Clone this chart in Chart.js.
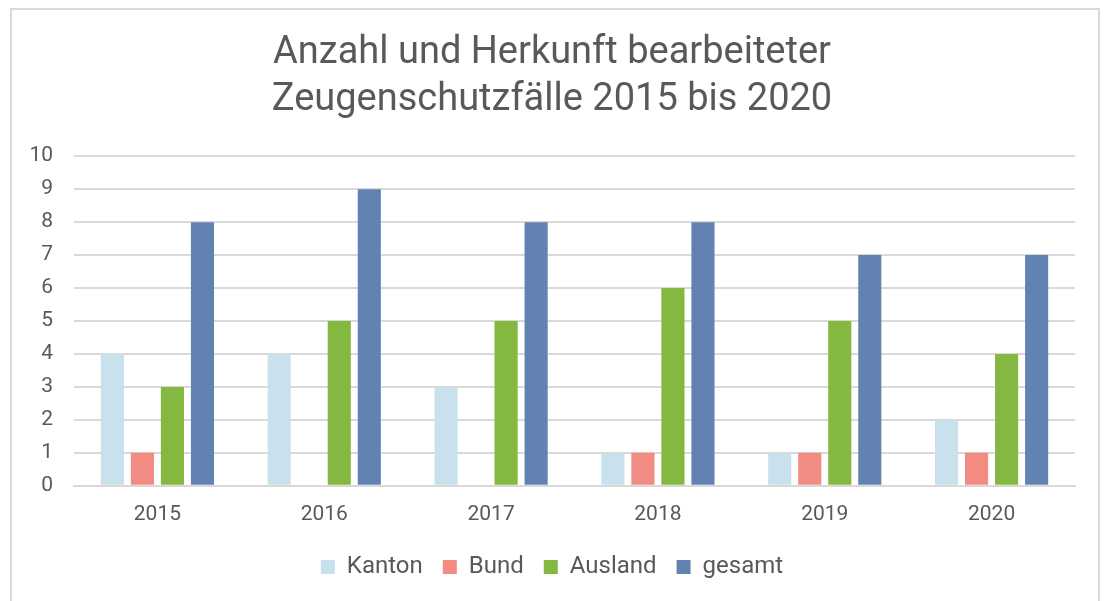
<!DOCTYPE html>
<html>
<head>
<meta charset="utf-8">
<script src="https://cdn.jsdelivr.net/npm/chart.js@4"></script>
<style>
  html, body { margin: 0; padding: 0; background: #fff; }
  #frame {
    position: absolute; left: 10px; top: 8px; width: 1090px; height: 600px;
    border: 2px solid #d9d9d9; border-bottom: none; box-sizing: border-box;
  }
  #wrap { position: absolute; left: 0; top: 0; width: 1106px; height: 601px; }
</style>
</head>
<body>
<div id="frame"></div>
<div id="wrap"><canvas id="chart" width="1106" height="601"></canvas></div>
<script>
// Years and case counts
const years = ['2015', '2016', '2017', '2018', '2019', '2020'];
const kanton = [4, 4, 3, 1, 1, 2];
const bund = [1, 0, 0, 1, 1, 1];
const ausland = [3, 5, 5, 6, 5, 4];
const gesamt = [8, 9, 8, 8, 7, 7];

const textColor = '#595959';
const gridColor = '#d9d9d9';

function bars(label, data, color) {
  return {
    label: label,
    data: data,
    backgroundColor: color,
    borderWidth: 0,
    barPercentage: 0.77,
    categoryPercentage: 0.72
  };
}

const ctx = document.getElementById('chart').getContext('2d');
new Chart(ctx, {
  type: 'bar',
  data: {
    labels: years,
    datasets: [
      bars('Kanton', kanton, '#c8e1ec'),
      bars('Bund', bund, '#f28b82'),
      bars('Ausland', ausland, '#84b840'),
      bars('gesamt', gesamt, '#6283b2')
    ]
  },
  options: {
    responsive: false,
    animation: false,
    layout: { padding: { left: 29, right: 31, top: 14, bottom: 12 } },
    plugins: {
      title: {
        display: true,
        text: ['Anzahl und Herkunft bearbeiteter', 'Zeugenschutzfälle 2015 bis 2020'],
        color: textColor,
        font: { family: 'Roboto, sans-serif', size: 38, weight: 'normal', lineHeight: 1.24 },
        padding: { top: 16, bottom: 32 }
      },
      legend: {
        position: 'bottom',
        labels: {
          color: textColor,
          font: { family: 'Roboto, sans-serif', size: 24 },
          boxWidth: 14,
          boxHeight: 14,
          padding: 20
        }
      },
      tooltip: { enabled: false }
    },
    scales: {
      x: {
        grid: { display: false },
        border: { color: gridColor, width: 2 },
        ticks: { color: textColor, font: { family: 'Roboto, sans-serif', size: 21 }, padding: 8 }
      },
      y: {
        min: 0,
        max: 10,
        afterFit: scale => { scale.width = 45; },
        grid: { color: gridColor, lineWidth: 2, drawTicks: false },
        border: { display: false },
        ticks: { stepSize: 1, color: textColor, font: { family: 'Roboto, sans-serif', size: 21 }, padding: 21 }
      }
    }
  }
});
</script>
</body>
</html>
